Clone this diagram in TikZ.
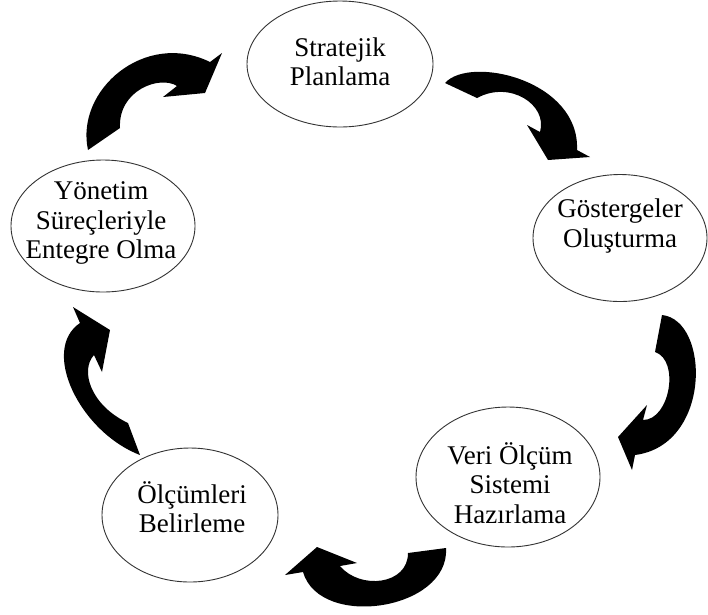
\documentclass[tikz,border=0pt]{standalone}
\usepackage{fontspec}
\setmainfont{Liberation Serif}
\usetikzlibrary{shapes.geometric}
\begin{document}
\begin{tikzpicture}[x=1pt,y=-1pt,
  stage/.style={ellipse, draw=black!80, line width=0.9pt, fill=white, inner sep=0pt},
  lbl/.style={font=\fontsize{27}{29.5}\selectfont, align=center, inner sep=0pt},
  cyclearrow/.style={fill=black}]
\useasboundingbox (0,0) rectangle (708,614);
\fill[white] (0,0) rectangle (708,614);
% stages
\node[stage, minimum width=186pt, minimum height=126pt] (sp) at (340,64) {};
\node[stage, minimum width=174pt, minimum height=127pt] (go) at (620,238) {};
\node[stage, minimum width=184pt, minimum height=140pt] (ve) at (508,477) {};
\node[stage, minimum width=176pt, minimum height=134pt] (ol) at (190,515) {};
\node[stage, minimum width=184pt, minimum height=132pt] (yo) at (103,226) {};
% labels
\node[lbl] (tsp) at (340,62) {Stratejik\\Planlama};
\node[lbl] (tgo) at (620,226) {Göstergeler\\Oluşturma};
\node[lbl] (tve) at (510,483) {Veri Ölçüm\\Sistemi\\Hazırlama};
\node[lbl] (tol) at (192,507) {Ölçümleri\\Belirleme};
\node[lbl] (tyo) at (101,223) {Yönetim\\Süreçleriyle\\Entegre Olma};
% curved arrows
\fill[cyclearrow] (88,150) .. controls (75,90) and (145,30) .. (210,62) -- (222,53) -- (205,93) -- (163,97) -- (177,86) .. controls (160,75) and (118,90) .. (120,128) -- cycle;
\fill[cyclearrow] (445,83) .. controls (470,55) and (580,80) .. (577,150) -- (590,157) -- (548,160) -- (527,125) -- (540,132) .. controls (548,105) and (510,80) .. (477,98) -- cycle;
\fill[cyclearrow] (662,315) .. controls (710,320) and (712,445) .. (635,455) -- (632,470) -- (618,437) -- (647,405) -- (643,420) .. controls (670,420) and (680,360) .. (655,352) -- cycle;
\fill[cyclearrow] (446,548) .. controls (450,610) and (320,630) .. (303,572) -- (285,575) -- (317,547) -- (357,563) -- (340,566) .. controls (360,590) and (408,585) .. (408,553) -- cycle;
\fill[cyclearrow] (140,455) .. controls (80,432) and (40,350) .. (80,323) -- (73,307) -- (110,330) -- (102,372) -- (94,355) .. controls (80,370) and (90,405) .. (128,423) -- cycle;
\end{tikzpicture}
\end{document}
